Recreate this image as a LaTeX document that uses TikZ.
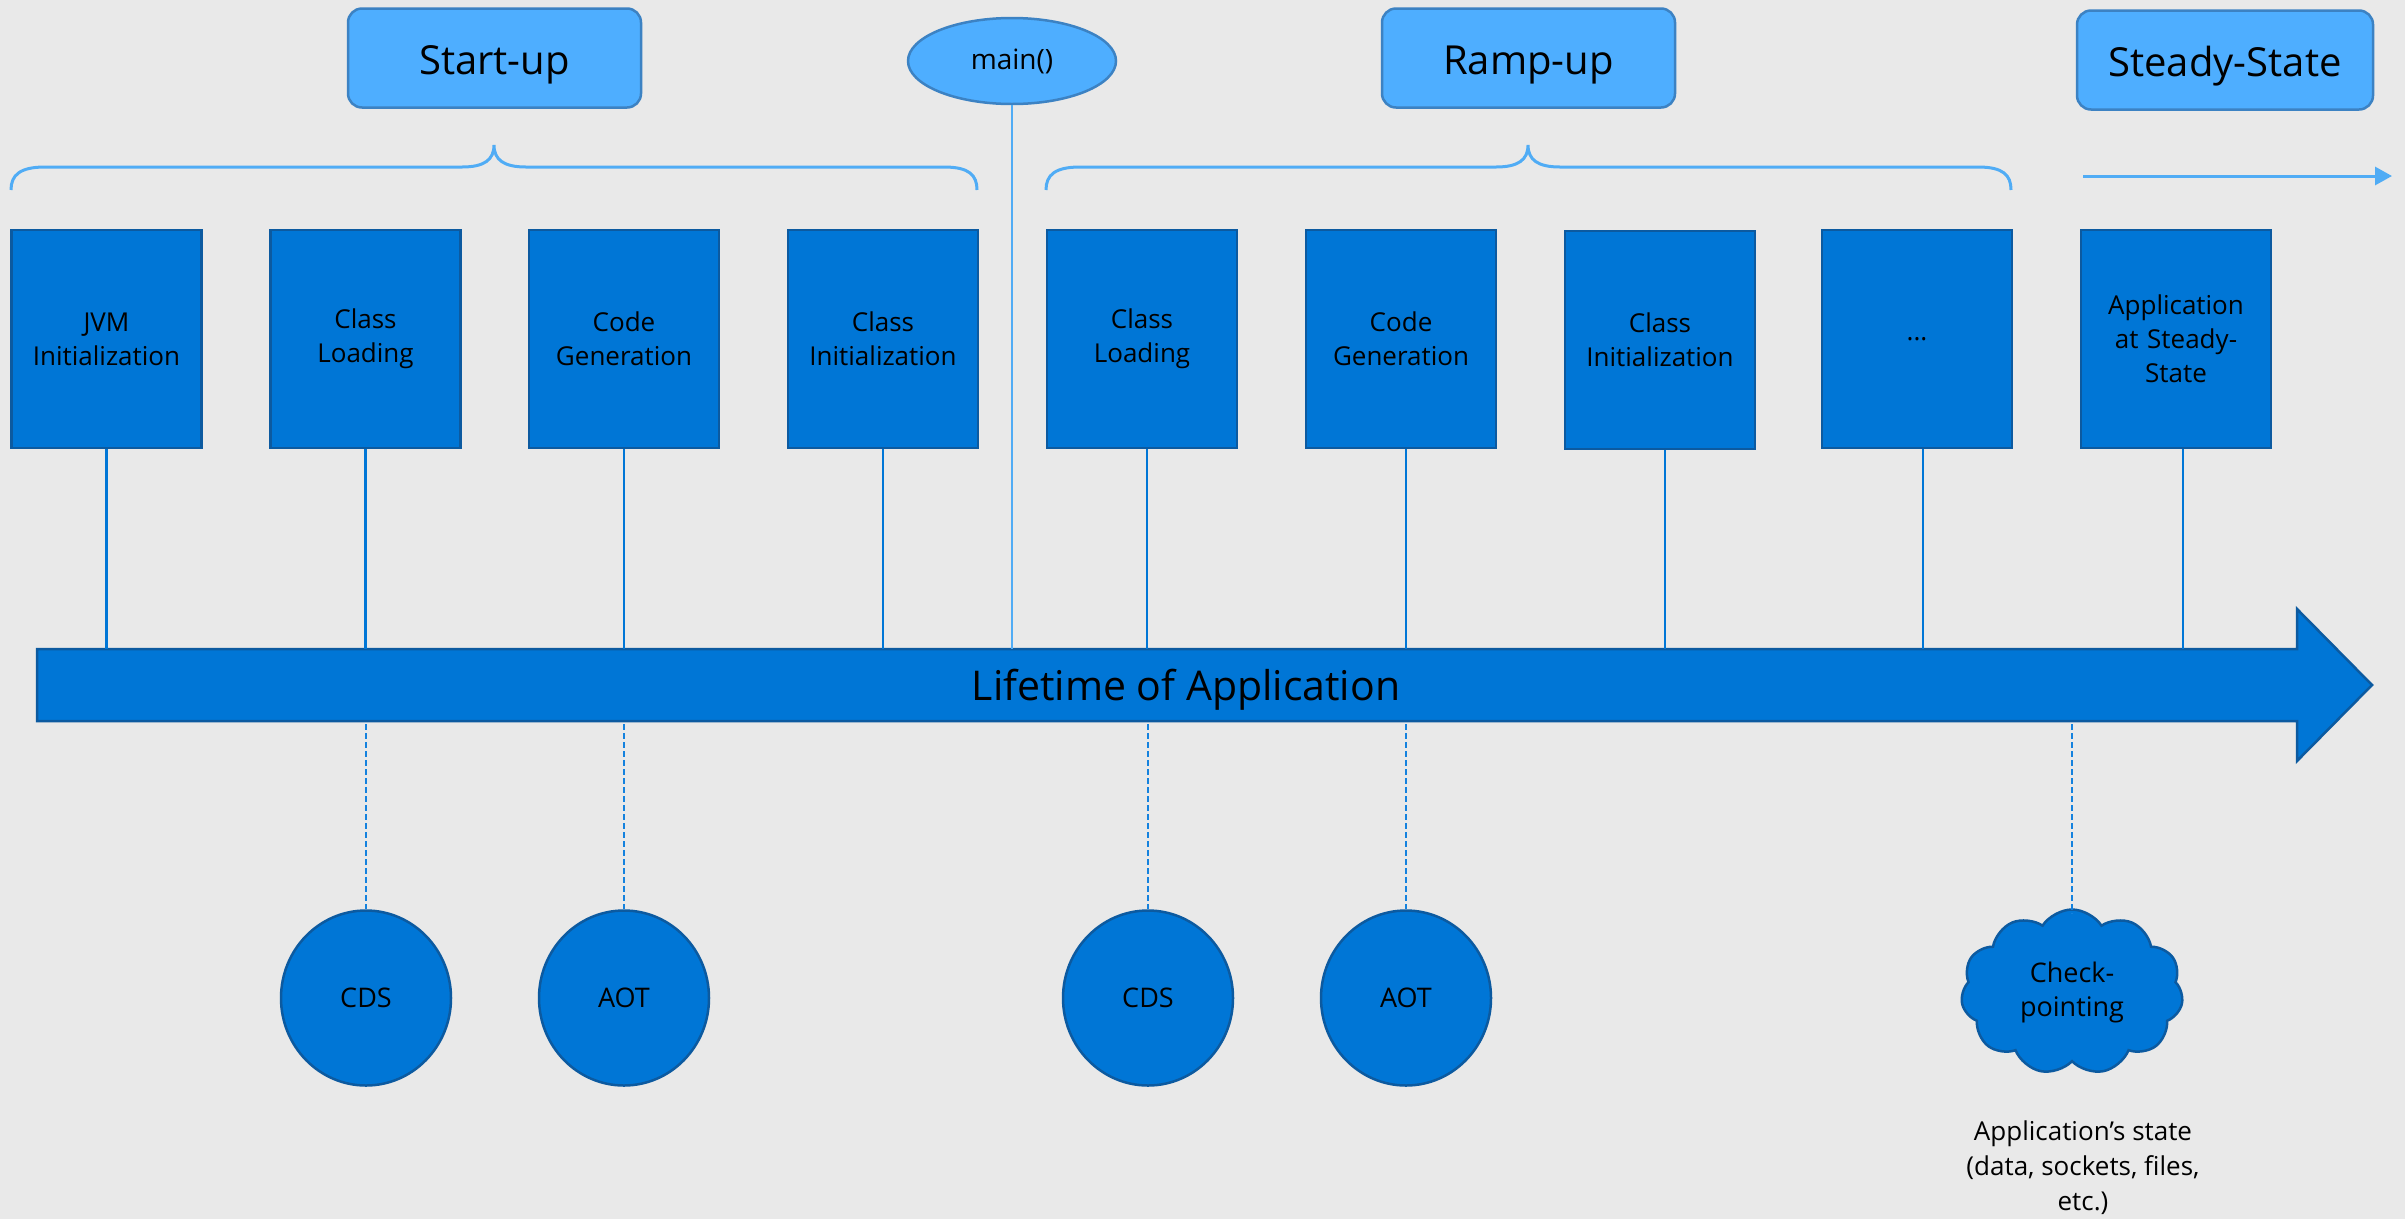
\documentclass[tikz,border=0pt]{standalone}
\usepackage{fontspec}
\setmainfont{Open Sans}
\usetikzlibrary{shapes.geometric,shapes.symbols,arrows.meta}
\definecolor{bg}{RGB}{233,233,233}
\definecolor{boxfill}{RGB}{0,118,214}
\definecolor{boxline}{RGB}{12,90,160}
\definecolor{lightfill}{RGB}{78,174,255}
\definecolor{lightline}{RGB}{60,130,195}
\definecolor{bracec}{RGB}{80,172,245}
\definecolor{conn}{RGB}{0,118,214}
\definecolor{dashc}{RGB}{20,130,222}
\begin{document}
\begin{tikzpicture}[x=1pt,y=-1pt,
  stagebox/.style={draw=boxline, line width=2.5pt, fill=boxfill, minimum width=190pt, minimum height=218pt,
    inner sep=0pt, align=center, text width=180pt, font=\fontsize{26}{34}\selectfont},
  phasebox/.style={draw=lightline, line width=2.5pt, fill=lightfill, rounded corners=14pt,
    minimum width=293pt, minimum height=99pt, inner sep=0pt, text height=34pt, text depth=2pt,
    font=\fontsize{40}{48}\selectfont},
  techcircle/.style={ellipse, draw=boxline, line width=2.5pt, fill=boxfill, minimum width=170pt,
    minimum height=175pt, inner sep=0pt, font=\fontsize{27}{34}\selectfont},
  stemline/.style={draw=conn, line width=2.5pt},
  dashline/.style={draw=dashc, line width=2.5pt, dash pattern=on 6pt off 3pt},
  bracestyle/.style={draw=bracec, line width=3pt},
  plain/.style={inner sep=0pt, align=center}
]
\useasboundingbox (0,0) rectangle (2405,1219);
\fill[bg] (0,0) rectangle (2405,1219);

% phase labels
\node[phasebox] (startup) at (494.5,58) {Start-up};
\node[phasebox] (rampup) at (1528.5,58) {Ramp-up};
\node[phasebox, minimum width=296pt] (steady) at (2225,60) {Steady-State};
\node[ellipse, draw=lightline, line width=2.5pt, fill=lightfill, minimum width=208pt, minimum height=86pt,
  inner sep=0pt, font=\fontsize{28}{34}\selectfont] (main) at (1012,61) {main()};

% braces
\draw[bracestyle] (11,190) .. controls (11,175) and (20,167) .. (45,167) -- (462,167)
  .. controls (484,167) and (494,160) .. (494,145)
  .. controls (494,160) and (504,167) .. (526,167) -- (944,167)
  .. controls (969,167) and (977,175) .. (977,190);
\draw[bracestyle] (1046,190) .. controls (1046,175) and (1055,167) .. (1080,167) -- (1496,167)
  .. controls (1518,167) and (1528,160) .. (1528,145)
  .. controls (1528,160) and (1538,167) .. (1560,167) -- (1978,167)
  .. controls (2003,167) and (2011,175) .. (2011,190);
\coordinate (sa) at (2083,176);
\coordinate (sb) at (2392,176);
\draw[draw=bracec, line width=3pt, -{Triangle[length=17pt,width=18pt]}] (sa) -- (sb);

% big arrow
\filldraw[fill=boxfill, draw=boxline, line width=2.5pt]
  (37,649) -- (2297,649) -- (2297,609) -- (2372,685) -- (2297,761) -- (2297,721) -- (37,721) -- cycle;
\node[minimum width=2260pt, minimum height=72pt, inner sep=0pt] (axis) at (1167,685) {};
\node[plain, font=\fontsize{41}{48}\selectfont] (axislabel) at (1186,690) {Lifetime of Application};

% stage boxes
\node[stagebox] (jvm) at (106.5,339) {JVM\\Initialization};
\node[stagebox] (cl1) at (365.5,339) {Class\\Loading};
\node[stagebox] (cg1) at (624,339) {Code\\Generation};
\node[stagebox] (ci1) at (883,339) {Class\\Initialization};
\node[stagebox] (cl2) at (1142,339) {Class\\Loading};
\node[stagebox] (cg2) at (1401,339) {Code\\Generation};
\node[stagebox] (ci2) at (1660,340) {Class\\Initialization};
\node[stagebox] (etc) at (1917,339) {...};
\node[stagebox] (app) at (2176,339) {Application\\at Steady-\\State};

% stems to axis
\draw[stemline] (jvm.south) -- (jvm.south |- axis.north);
\draw[stemline] (cl1.south) -- (cl1.south |- axis.north);
\draw[stemline] (cg1.south) -- (cg1.south |- axis.north);
\draw[stemline] (ci1.south) -- (ci1.south |- axis.north);
\draw[stemline] ([xshift=5pt]cl2.south) -- ([xshift=5pt]cl2.south |- axis.north);
\draw[stemline] ([xshift=5pt]cg2.south) -- ([xshift=5pt]cg2.south |- axis.north);
\draw[stemline] ([xshift=5pt]ci2.south) -- ([xshift=5pt]ci2.south |- axis.north);
\draw[stemline] ([xshift=6pt]etc.south) -- ([xshift=6pt]etc.south |- axis.north);
\draw[stemline] ([xshift=7pt]app.south) -- ([xshift=7pt]app.south |- axis.north);
\draw[draw=bracec, line width=2.5pt] (main.south) -- (main.south |- axis.north);

% techniques
\node[techcircle] (cds1) at (366,998) {CDS};
\node[techcircle] (aot1) at (624,998) {AOT};
\node[techcircle] (cds2) at (1148,998) {CDS};
\node[techcircle] (aot2) at (1406,998) {AOT};
\node[cloud, cloud puffs=11, cloud puff arc=115, cloud ignores aspect, draw=boxline, line width=2.5pt,
  fill=boxfill, minimum width=222pt, minimum height=165pt, inner sep=0pt, align=center,
  font=\fontsize{27}{34}\selectfont] (ckpt) at (2072,992) {Check-\\pointing};

\draw[dashline] ([yshift=-3pt]cds1.north |- axis.south) -- (cds1.north);
\draw[dashline] ([yshift=-3pt]aot1.north |- axis.south) -- (aot1.north);
\draw[dashline] ([yshift=-3pt]cds2.north |- axis.south) -- (cds2.north);
\draw[dashline] ([yshift=-3pt]aot2.north |- axis.south) -- (aot2.north);
\draw[dashline] ([yshift=-3pt]ckpt.north |- axis.south) -- ([yshift=-6pt]ckpt.north);

\node[plain, font=\fontsize{26}{35}\selectfont] (statetext) at (2083,1168)
  {Application’s state\\(data, sockets, files,\\etc.)};
\end{tikzpicture}
\end{document}
